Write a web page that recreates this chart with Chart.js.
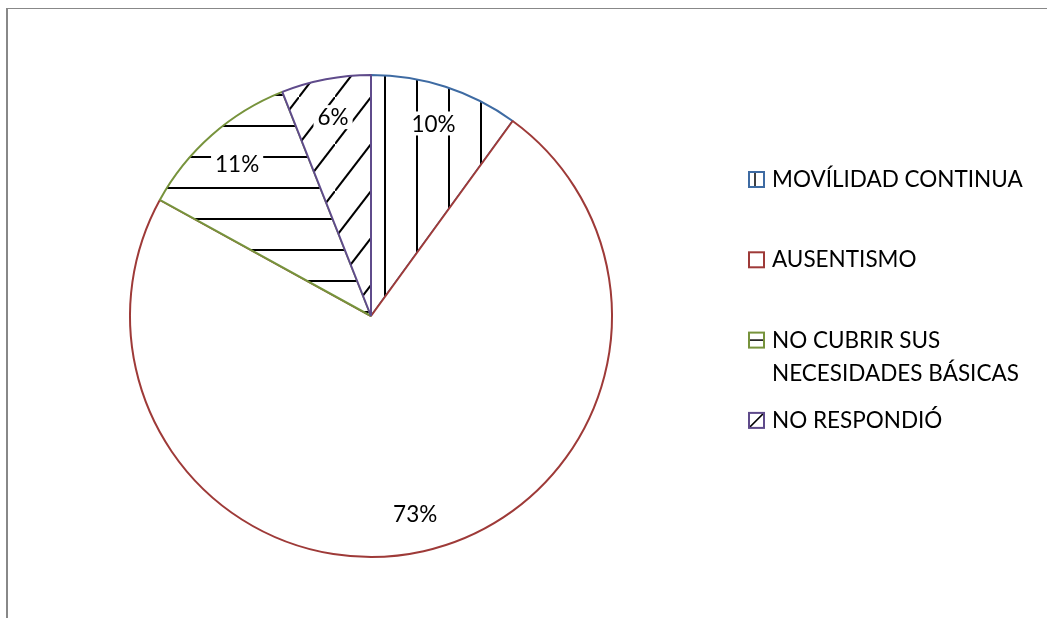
<!DOCTYPE html>
<html>
<head>
<meta charset="utf-8">
<script src="https://cdn.jsdelivr.net/npm/chart.js@4/dist/chart.umd.min.js"></script>
<style>
  html, body { margin: 0; padding: 0; background: #fff; }
  #wrap { position: relative; width: 1047px; height: 618px; overflow: hidden; }
  #frame { position: absolute; left: 6px; top: 8px; width: 1100px; height: 700px;
           border-top: 1px solid #888; border-left: 2px solid #888; }
  canvas { position: absolute; left: 0; top: 0; }
</style>
</head>
<body>
<div id="wrap">
  <div id="frame"></div>
  <canvas id="chart" width="1047" height="618"></canvas>
</div>
<script>
const categories = ["MOVÍLIDAD CONTINUA", "AUSENTISMO", "NO CUBRIR SUS NECESIDADES BÁSICAS", "NO RESPONDIÓ"];
const percentages = [10, 73, 11, 6];
const borderColors = ["#3E6BA3", "#9E3A38", "#77933C", "#5F4B8B"];
const hatchKinds = ["vertical", "none", "horizontal", "diagonal"];

const fontFamily = "Lato, 'Open Sans', sans-serif";

// hatch patterns, aligned to the canvas so lines fall where the original has them
function makePattern(kind) {
	if (kind === "none") return "#ffffff";
	let tile = document.createElement("canvas");
	let w = 32, h = 31;
	if (kind === "diagonal") { w = 36; h = 47; }
	tile.width = w;
	tile.height = h;
	let c = tile.getContext("2d");
	c.fillStyle = "#fff";
	c.fillRect(0, 0, w, h);
	c.strokeStyle = "#000";
	c.lineWidth = 2;
	c.beginPath();
	if (kind === "vertical") {
		c.moveTo(1, 0); c.lineTo(1, h);
	} else if (kind === "horizontal") {
		c.moveTo(0, 1); c.lineTo(w, 1);
	} else {
		c.moveTo(-w, 2 * h); c.lineTo(2 * w, -h);
	}
	c.stroke();
	let pattern = document.getElementById("chart").getContext("2d").createPattern(tile, "repeat");
	let m = new DOMMatrix();
	if (kind === "vertical") m = m.translate(384, 0);
	if (kind === "horizontal") m = m.translate(0, 125);
	if (kind === "diagonal") m = m.translate(371, 50);
	pattern.setTransform(m);
	return pattern;
}

function wrapText(ctx, text, maxWidth) {
	let words = text.split(" ");
	let lines = [];
	let line = "";
	words.map((word) => {
		let test = line ? line + " " + word : word;
		if (ctx.measureText(test).width > maxWidth && line) {
			lines.push(line);
			line = word;
		} else {
			line = test;
		}
	});
	lines.push(line);
	return lines;
}

const labelsPlugin = {
	id: "sliceLabels",
	afterDatasetsDraw(chart) {
		let ctx = chart.ctx;
		let meta = chart.getDatasetMeta(0);
		ctx.save();
		ctx.font = "22.5px " + fontFamily;
		ctx.textAlign = "center";
		ctx.textBaseline = "middle";
		meta.data.forEach((arc, i) => {
			let p = arc.getProps(["x", "y", "startAngle", "endAngle", "outerRadius"], true);
			let mid = (p.startAngle + p.endAngle) / 2;
			let r = p.outerRadius * 0.84;
			let x = p.x + Math.cos(mid) * r;
			let y = p.y + Math.sin(mid) * r;
			let text = percentages[i] + "%";
			let tw = ctx.measureText(text).width;
			ctx.fillStyle = "#fff";
			ctx.fillRect(x - tw / 2 - 4, y - 12, tw + 8, 24);
			ctx.fillStyle = "#000";
			ctx.fillText(text, x, y + 1);
		});
		ctx.restore();
	}
};

const legendPlugin = {
	id: "sideLegend",
	afterDraw(chart) {
		let ctx = chart.ctx;
		let boxX = 749, textX = 772, firstBaseline = 187, step = 80.3, lineH = 33, box = 15;
		ctx.save();
		ctx.font = "22.5px " + fontFamily;
		ctx.textBaseline = "alphabetic";
		categories.forEach((name, i) => {
			let base = firstBaseline + step * i;
			let top = base - box;
			ctx.fillStyle = "#fff";
			ctx.fillRect(boxX, top, box, box);
			// little hatch sample
			ctx.strokeStyle = "#000";
			ctx.lineWidth = 1.5;
			ctx.beginPath();
			if (hatchKinds[i] === "vertical") {
				ctx.moveTo(boxX + 6, top); ctx.lineTo(boxX + 6, top + box);
			} else if (hatchKinds[i] === "horizontal") {
				ctx.moveTo(boxX, top + box / 2); ctx.lineTo(boxX + box, top + box / 2);
			} else if (hatchKinds[i] === "diagonal") {
				ctx.moveTo(boxX, top + box); ctx.lineTo(boxX + box, top);
			}
			ctx.stroke();
			ctx.strokeStyle = borderColors[i];
			ctx.lineWidth = 2;
			ctx.strokeRect(boxX, top, box, box);
			ctx.fillStyle = "#000";
			let lines = wrapText(ctx, name, 268);
			lines.forEach((ln, k) => ctx.fillText(ln, textX, base + k * lineH));
		});
		ctx.restore();
	}
};

new Chart(
	document.getElementById("chart"),
	{
		type: "pie",
		data: {
			labels: categories,
			datasets: [{
				data: percentages,
				backgroundColor: hatchKinds.map(makePattern),
				borderColor: borderColors,
				borderWidth: 2,
				hoverOffset: 0
			}]
		},
		options: {
			responsive: false,
			animation: false,
			events: [],
			layout: { padding: { left: 129, right: 434, top: 74, bottom: 60 } },
			plugins: {
				legend: { display: false },
				tooltip: { enabled: false }
			}
		},
		plugins: [labelsPlugin, legendPlugin]
	}
);
</script>
</body>
</html>
